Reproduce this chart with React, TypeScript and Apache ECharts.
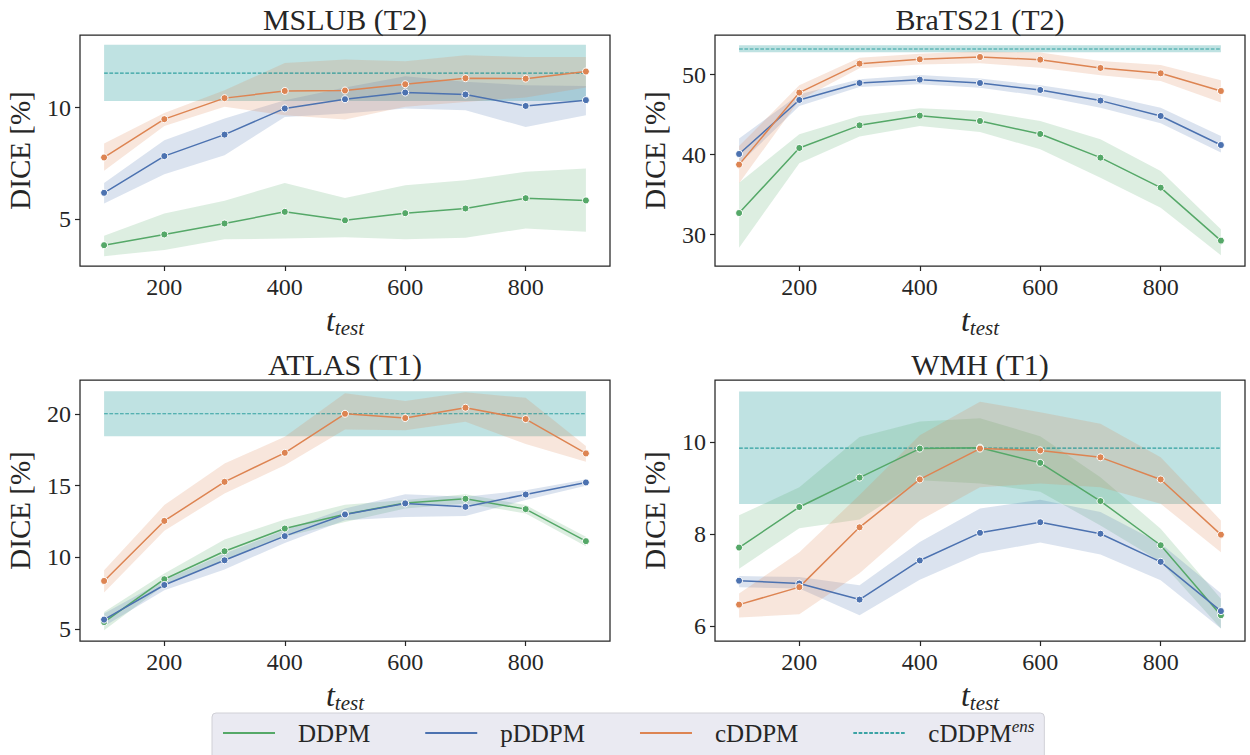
import React, { useEffect, useRef } from 'react';
import * as echarts from 'echarts';

// ---------------- data ----------------
const T_TEST = [100, 200, 300, 400, 500, 600, 700, 800, 900];
const X_TICKS = [200, 400, 600, 800];

const TITLES = ['MSLUB (T2)', 'BraTS21 (T2)', 'ATLAS (T1)', 'WMH (T1)'];
const Y_TICKS = [[5, 10], [30, 40, 50], [5, 10, 15, 20], [6, 8, 10]];
const Y_MIN = [2.92, 26.08, 4.18, 5.68];
const Y_MAX = [13.24, 54.95, 22.35, 11.35];

// cDDPM^ens (constant mean and band)
const ENS_MEAN = [11.54, 53.2, 20.0, 9.87];
const ENS_LO = [10.29, 52.8, 18.43, 8.655];
const ENS_HI = [12.81, 53.66, 21.56, 11.1];

// MSLUB (T2)
const MSLUB_DDPM = [3.85, 4.33, 4.82, 5.34, 4.96, 5.28, 5.49, 5.95, 5.85];
const MSLUB_DDPM_LO = [3.36, 3.63, 4.11, 4.15, 4.2, 4.11, 4.18, 4.6, 4.45];
const MSLUB_DDPM_HI = [4.27, 5.27, 5.83, 6.63, 5.96, 6.53, 6.75, 7.13, 7.28];
const MSLUB_PDDPM = [6.19, 7.83, 8.79, 9.96, 10.37, 10.67, 10.58, 10.07, 10.33];
const MSLUB_PDDPM_LO = [5.71, 7.02, 7.87, 9.58, 9.73, 9.96, 9.88, 9.13, 9.66];
const MSLUB_PDDPM_HI = [6.63, 8.54, 9.51, 10.33, 10.9, 11.4, 11.15, 11.0, 10.96];
const MSLUB_CDDPM = [7.77, 9.48, 10.42, 10.74, 10.76, 11.04, 11.31, 11.29, 11.61];
const MSLUB_CDDPM_LO = [7.17, 9.17, 10.03, 9.66, 9.46, 10.03, 10.25, 10.45, 10.9];
const MSLUB_CDDPM_HI = [8.39, 9.76, 10.77, 11.99, 12.14, 12.07, 12.33, 12.26, 12.26];

// BraTS21 (T2)
const BRATS_DDPM = [32.7, 40.83, 43.66, 44.87, 44.2, 42.58, 39.62, 35.87, 29.25];
const BRATS_DDPM_LO = [28.37, 38.91, 42.25, 43.58, 42.83, 40.66, 37.12, 33.37, 27.41];
const BRATS_DDPM_HI = [36.5, 42.54, 44.83, 45.79, 45.45, 44.2, 41.91, 37.95, 30.66];
const BRATS_PDDPM = [40.08, 46.83, 48.95, 49.37, 48.95, 48.08, 46.75, 44.83, 41.2];
const BRATS_PDDPM_LO = [38.79, 46.08, 48.45, 48.79, 48.37, 47.33, 45.87, 43.91, 40.25];
const BRATS_PDDPM_HI = [42.0, 47.54, 49.41, 49.95, 49.5, 48.66, 47.54, 45.87, 42.33];
const BRATS_CDDPM = [38.75, 47.75, 51.37, 51.91, 52.2, 51.87, 50.83, 50.16, 47.95];
const BRATS_CDDPM_LO = [36.41, 46.83, 50.79, 51.25, 51.41, 50.87, 49.91, 49.2, 46.5];
const BRATS_CDDPM_HI = [41.08, 48.66, 52.12, 52.62, 52.91, 52.75, 51.7, 51.2, 49.29];

// ATLAS (T1)
const ATLAS_DDPM = [5.5, 8.48, 10.43, 12.01, 13.01, 13.78, 14.08, 13.36, 11.13];
const ATLAS_DDPM_LO = [4.93, 8.06, 9.8, 11.43, 12.47, 13.41, 13.76, 13.06, 10.78];
const ATLAS_DDPM_HI = [6.2, 8.88, 11.25, 12.64, 13.66, 13.99, 14.4, 13.64, 11.43];
const ATLAS_PDDPM = [5.67, 8.08, 9.8, 11.48, 12.99, 13.76, 13.52, 14.38, 15.22];
const ATLAS_PDDPM_LO = [5.2, 7.71, 9.16, 11.01, 12.59, 12.82, 12.89, 13.99, 14.98];
const ATLAS_PDDPM_HI = [6.09, 8.41, 10.27, 11.9, 13.41, 14.4, 14.22, 14.68, 15.43];
const ATLAS_CDDPM = [8.36, 12.54, 15.26, 17.28, 20.0, 19.7, 20.42, 19.63, 17.24];
const ATLAS_CDDPM_LO = [7.55, 11.85, 14.45, 16.42, 18.91, 18.86, 19.44, 17.89, 16.66];
const ATLAS_CDDPM_HI = [9.11, 13.64, 16.54, 18.4, 21.42, 20.88, 21.49, 21.11, 17.75];

// WMH (T1)
const WMH_DDPM = [7.71, 8.59, 9.23, 9.86, 9.88, 9.55, 8.72, 7.76, 6.24];
const WMH_DDPM_LO = [7.25, 8.13, 8.32, 9.17, 9.1, 8.92, 8.19, 7.4, 5.95];
const WMH_DDPM_HI = [8.41, 9.02, 10.11, 10.45, 10.52, 10.13, 9.24, 8.12, 6.6];
const WMH_PDDPM = [6.99, 6.93, 6.58, 7.43, 8.03, 8.26, 8.01, 7.4, 6.33];
const WMH_PDDPM_LO = [6.85, 6.82, 6.24, 7.01, 7.58, 7.82, 7.56, 7.0, 5.95];
const WMH_PDDPM_HI = [7.09, 7.07, 6.89, 7.83, 8.56, 8.75, 8.48, 7.8, 6.72];
const WMH_CDDPM = [6.47, 6.85, 8.15, 9.19, 9.86, 9.82, 9.67, 9.19, 7.99];
const WMH_CDDPM_LO = [6.19, 6.26, 7.15, 8.3, 9.02, 9.1, 9.02, 8.66, 7.61];
const WMH_CDDPM_HI = [6.71, 7.61, 8.85, 10.15, 10.88, 10.65, 10.4, 9.67, 8.3];

const METHODS = ['DDPM', 'pDDPM', 'cDDPM'];
const ENS_NAME = 'cDDPM ens';

// ---------------- styling ----------------
const FONT = "'Liberation Serif', 'DejaVu Serif', serif";
const INK = '#262626';
const COLORS = ['#55a868', '#4c72b0', '#dd8452'];
const BAND_FILLS = ['rgba(85,168,104,0.2)', 'rgba(76,114,176,0.2)', 'rgba(221,132,82,0.2)'];
const ENS_BAND_FILL = 'rgba(0,139,139,0.25)';
const ENS_LINE = 'rgba(0,139,139,0.75)';

const GRID_LEFT = [80, 715, 80, 715];
const GRID_TOP = [35, 35, 380, 380];
const GRID_W = 530;
const GRID_H = [231, 231, 261, 261];
const TITLE_Y = [19, 19, 364, 364];

const PANEL_DATA = [
  [
    [MSLUB_DDPM, MSLUB_DDPM_LO, MSLUB_DDPM_HI],
    [MSLUB_PDDPM, MSLUB_PDDPM_LO, MSLUB_PDDPM_HI],
    [MSLUB_CDDPM, MSLUB_CDDPM_LO, MSLUB_CDDPM_HI],
  ],
  [
    [BRATS_DDPM, BRATS_DDPM_LO, BRATS_DDPM_HI],
    [BRATS_PDDPM, BRATS_PDDPM_LO, BRATS_PDDPM_HI],
    [BRATS_CDDPM, BRATS_CDDPM_LO, BRATS_CDDPM_HI],
  ],
  [
    [ATLAS_DDPM, ATLAS_DDPM_LO, ATLAS_DDPM_HI],
    [ATLAS_PDDPM, ATLAS_PDDPM_LO, ATLAS_PDDPM_HI],
    [ATLAS_CDDPM, ATLAS_CDDPM_LO, ATLAS_CDDPM_HI],
  ],
  [
    [WMH_DDPM, WMH_DDPM_LO, WMH_DDPM_HI],
    [WMH_PDDPM, WMH_PDDPM_LO, WMH_PDDPM_HI],
    [WMH_CDDPM, WMH_CDDPM_LO, WMH_CDDPM_HI],
  ],
];

function bandSeries(i: number, xs: number[], lo: number[], hi: number[], fill: string, z: number) {
  return {
    type: 'custom',
    coordinateSystem: 'cartesian2d',
    xAxisIndex: i,
    yAxisIndex: i,
    data: xs.map((x, k) => [x, lo[k], hi[k]]),
    encode: { x: 0, y: [1, 2] },
    silent: true,
    z,
    renderItem: (params: any, api: any) => {
      if (params.dataIndex !== 0) return { type: 'group', children: [] };
      const pts: number[][] = [];
      for (let k = 0; k < xs.length; k++) pts.push(api.coord([xs[k], hi[k]]));
      for (let k = xs.length - 1; k >= 0; k--) pts.push(api.coord([xs[k], lo[k]]));
      return { type: 'polygon', shape: { points: pts }, style: { fill, stroke: 'none' } };
    },
  };
}

function buildOption() {
  const grid: any[] = [];
  const xAxis: any[] = [];
  const yAxis: any[] = [];
  const series: any[] = [];
  const graphic: any[] = [];

  for (let i = 0; i < 4; i++) {
    grid.push({
      left: GRID_LEFT[i],
      top: GRID_TOP[i],
      width: GRID_W,
      height: GRID_H[i],
      show: true,
      borderColor: INK,
      borderWidth: 1.25,
      backgroundColor: '#ffffff',
    });
    xAxis.push({
      type: 'value',
      gridIndex: i,
      min: 60,
      max: 940,
      axisLine: { show: false },
      splitLine: { show: false },
      axisTick: { show: true, customValues: X_TICKS, length: 5, lineStyle: { color: INK, width: 1.2 } },
      axisLabel: { customValues: X_TICKS, fontSize: 24, fontFamily: FONT, color: INK, margin: 9 },
      name: '{t|t}{s|test}',
      nameLocation: 'middle',
      nameGap: 36,
      nameTextStyle: {
        rich: {
          t: { fontSize: 32, fontStyle: 'italic', fontFamily: FONT, color: INK, lineHeight: 36 },
          s: { fontSize: 21, fontStyle: 'italic', fontFamily: FONT, color: INK, lineHeight: 20, verticalAlign: 'bottom' },
        },
      },
    });
    yAxis.push({
      type: 'value',
      gridIndex: i,
      min: Y_MIN[i],
      max: Y_MAX[i],
      axisLine: { show: false },
      splitLine: { show: false },
      axisTick: { show: true, customValues: Y_TICKS[i], length: 5, lineStyle: { color: INK, width: 1.2 } },
      axisLabel: { customValues: Y_TICKS[i], fontSize: 24, fontFamily: FONT, color: INK, margin: 9 },
      name: 'DICE [%]',
      nameLocation: 'middle',
      nameRotate: 90,
      nameGap: 46,
      nameTextStyle: { fontSize: 29, fontFamily: FONT, color: INK },
    });

    // ensemble band + dashed mean
    series.push(bandSeries(i, [100, 900], [ENS_LO[i], ENS_LO[i]], [ENS_HI[i], ENS_HI[i]], ENS_BAND_FILL, 1));
    // method bands
    PANEL_DATA[i].forEach((m, j) => {
      series.push(bandSeries(i, T_TEST, m[1], m[2], BAND_FILLS[j], 2));
    });
    series.push({
      type: 'line',
      name: ENS_NAME,
      xAxisIndex: i,
      yAxisIndex: i,
      data: [[100, ENS_MEAN[i]], [900, ENS_MEAN[i]]],
      symbol: 'none',
      lineStyle: { color: ENS_LINE, width: 1.2, type: [3.7, 1.6] },
      itemStyle: { color: ENS_LINE },
      silent: true,
      z: 3,
    });
    PANEL_DATA[i].forEach((m, j) => {
      series.push({
        type: 'line',
        name: METHODS[j],
        xAxisIndex: i,
        yAxisIndex: i,
        data: T_TEST.map((t, k) => [t, m[0][k]]),
        symbol: 'circle',
        symbolSize: 7,
        showSymbol: true,
        lineStyle: { color: COLORS[j], width: 1.5 },
        itemStyle: { color: COLORS[j], borderColor: '#ffffff', borderWidth: 1 },
        emphasis: { disabled: true },
        silent: true,
        z: 5,
      });
    });

    graphic.push({
      type: 'text',
      x: GRID_LEFT[i] + GRID_W / 2,
      y: TITLE_Y[i],
      style: {
        text: TITLES[i],
        fontSize: 30,
        fontFamily: FONT,
        fill: INK,
        textAlign: 'center',
        textVerticalAlign: 'middle',
      },
    });
  }

  return {
    animation: false,
    backgroundColor: '#ffffff',
    grid,
    xAxis,
    yAxis,
    series,
    graphic,
    legend: {
      data: [...METHODS, ENS_NAME],
      left: 212,
      top: 713,
      orient: 'horizontal',
      itemWidth: 52,
      itemHeight: 14,
      itemGap: 54,
      padding: [5, 10, 14, 10],
      backgroundColor: '#eaeaf2',
      borderColor: '#d0d0d6',
      borderWidth: 1,
      borderRadius: 4,
      selectedMode: false,
      itemStyle: { opacity: 0 },
      formatter: (name: string) => (name === ENS_NAME ? '{a|cDDPM}{e|ens}' : '{a|' + name + '}'),
      textStyle: {
        fontSize: 25,
        fontFamily: FONT,
        color: INK,
        rich: {
          a: { fontSize: 25, fontFamily: FONT, color: INK, lineHeight: 30, padding: [0, 0, 0, 18] },
          e: { fontSize: 17, fontStyle: 'italic', fontFamily: FONT, color: INK, lineHeight: 20, verticalAlign: 'top' },
        },
      },
    },
  };
}

export default function App() {
  const ref = useRef<HTMLDivElement>(null);
  useEffect(() => {
    const chart = echarts.init(ref.current as HTMLDivElement, null, { renderer: 'svg' });
    chart.setOption(buildOption() as any);
    return () => chart.dispose();
  }, []);
  return (
    <div
      ref={ref}
      style={{ position: 'fixed', left: 0, top: 0, width: 1250, height: 755, background: '#ffffff' }}
    />
  );
}
